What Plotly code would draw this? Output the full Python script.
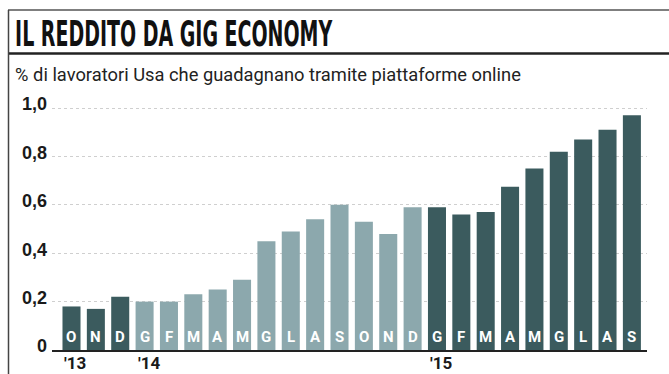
import json
import plotly.graph_objects as go

# Monthly share of US workers earning through online platforms (%)
months = ["O", "N", "D",
          "G", "F", "M", "A", "M", "G", "L", "A", "S", "O", "N", "D",
          "G", "F", "M", "A", "M", "G", "L", "A", "S"]
years = [2013] * 3 + [2014] * 12 + [2015] * 9
values = [0.18, 0.17, 0.22,
          0.20, 0.20, 0.23, 0.25, 0.29, 0.45, 0.49, 0.54, 0.60, 0.53, 0.48, 0.59,
          0.59, 0.56, 0.57, 0.675, 0.75, 0.82, 0.87, 0.91, 0.97]
year_labels = ["'13", "'14", "'15"]
y_ticks = [0, 0.2, 0.4, 0.6, 0.8, 1.0]
y_tick_text = ["0", "0,2", "0,4", "0,6", "0,8", "1,0"]

TITLE = "IL REDDITO DA GIG ECONOMY"
SUBTITLE = "% di lavoratori Usa che guadagnano tramite piattaforme online"

DARK = "#3b5b5e"
LIGHT = "#8ca8ad"
colors = [LIGHT if y == 2014 else DARK for y in years]
idx = list(range(len(values)))

COND = "DejaVu Sans Condensed, Roboto, sans-serif"
NARROW = "Roboto, Liberation Sans, sans-serif"

W, H = 669, 374
L, R, T, B = 52, 22, 96, 24


def px_x(p):
    return (p - L) / (W - L - R)


def px_y(p):
    return 1 - (p - T) / (H - T - B)


fig = go.Figure()
fig.add_trace(go.Bar(x=idx, y=values, marker=dict(color=colors, line=dict(width=0)),
                     hoverinfo="skip"))

# month initials inside the foot of each bar
for i, m in zip(idx, months):
    fig.add_annotation(x=i, y=0, xref="x", yref="y", text=m, showarrow=False,
                       yanchor="bottom", yshift=2,
                       font=dict(family=NARROW, size=15, color="white", weight="bold"))

# year markers under the first bar of each year
for yl, yr in zip(year_labels, sorted(set(years))):
    first = years.index(yr)
    fig.add_annotation(x=first - 0.37, y=0, xref="x", yref="y", text=yl, showarrow=False,
                       xanchor="left", yanchor="top", yshift=-1,
                       font=dict(family=NARROW, size=17, color="#1a1a1a", weight="bold"))

# header
fig.add_annotation(x=px_x(13), y=px_y(34), xref="paper", yref="paper",
                   text=TITLE, showarrow=False, xanchor="left", yanchor="middle",
                   font=dict(family=COND, size=35, color="#111", weight="bold"))
fig.add_annotation(x=px_x(13), y=px_y(75), xref="paper", yref="paper",
                   text=SUBTITLE, showarrow=False, xanchor="left", yanchor="middle",
                   font=dict(family=NARROW, size=19, color="#222"))

# frame lines
fig.add_shape(type="line", xref="paper", yref="paper", x0=px_x(8), x1=px_x(669),
              y0=px_y(10), y1=px_y(10), line=dict(color="#555", width=1.5))
fig.add_shape(type="line", xref="paper", yref="paper", x0=px_x(8), x1=px_x(669),
              y0=px_y(53.5), y1=px_y(53.5), line=dict(color="#222", width=2.5))
fig.add_shape(type="line", xref="paper", yref="paper", x0=px_x(8.5), x1=px_x(8.5),
              y0=px_y(10), y1=px_y(374), line=dict(color="#444", width=1.5))

fig.update_layout(
    width=W, height=H,
    margin=dict(l=L, r=R, t=T, b=B),
    paper_bgcolor="white", plot_bgcolor="white",
    showlegend=False, bargap=0.26,
    xaxis=dict(range=[-0.8, 23.62], showticklabels=False, showgrid=False,
               zeroline=False, showline=True, linecolor="#222", linewidth=2,
               ticks=""),
    yaxis=dict(range=[0, 1.05], tickvals=y_ticks, ticktext=y_tick_text,
               showgrid=True, gridcolor="#cfcfcf", griddash="dot", gridwidth=1,
               zeroline=False, showline=False, ticks="", ticklabelstandoff=4,
               ticklabelshift=-4,
               tickfont=dict(family="Liberation Sans", size=18, color="#1a1a1a",
                             weight="bold")),
)

# condensed headline type: squeeze the header lines horizontally to their set widths
fit_widths = {TITLE: 318, SUBTITLE: 506}
post_js = """
(function(){
  var gd = document.getElementById('{plot_id}');
  var fits = %s;
  function fit(){
    gd.querySelectorAll('.annotation-text').forEach(function(t){
      var tw = fits[t.textContent];
      if(!tw) return;
      t.style.transform = 'none';
      var w = t.getBBox().width;
      t.style.transformBox = 'fill-box';
      t.style.transformOrigin = 'left center';
      t.style.transform = 'scaleX(' + (tw / w) + ')';
    });
  }
  fit();
  gd.on('plotly_afterplot', fit);
})();
""" % json.dumps(fit_widths)

fig.write_html("out.html", post_script=post_js)
